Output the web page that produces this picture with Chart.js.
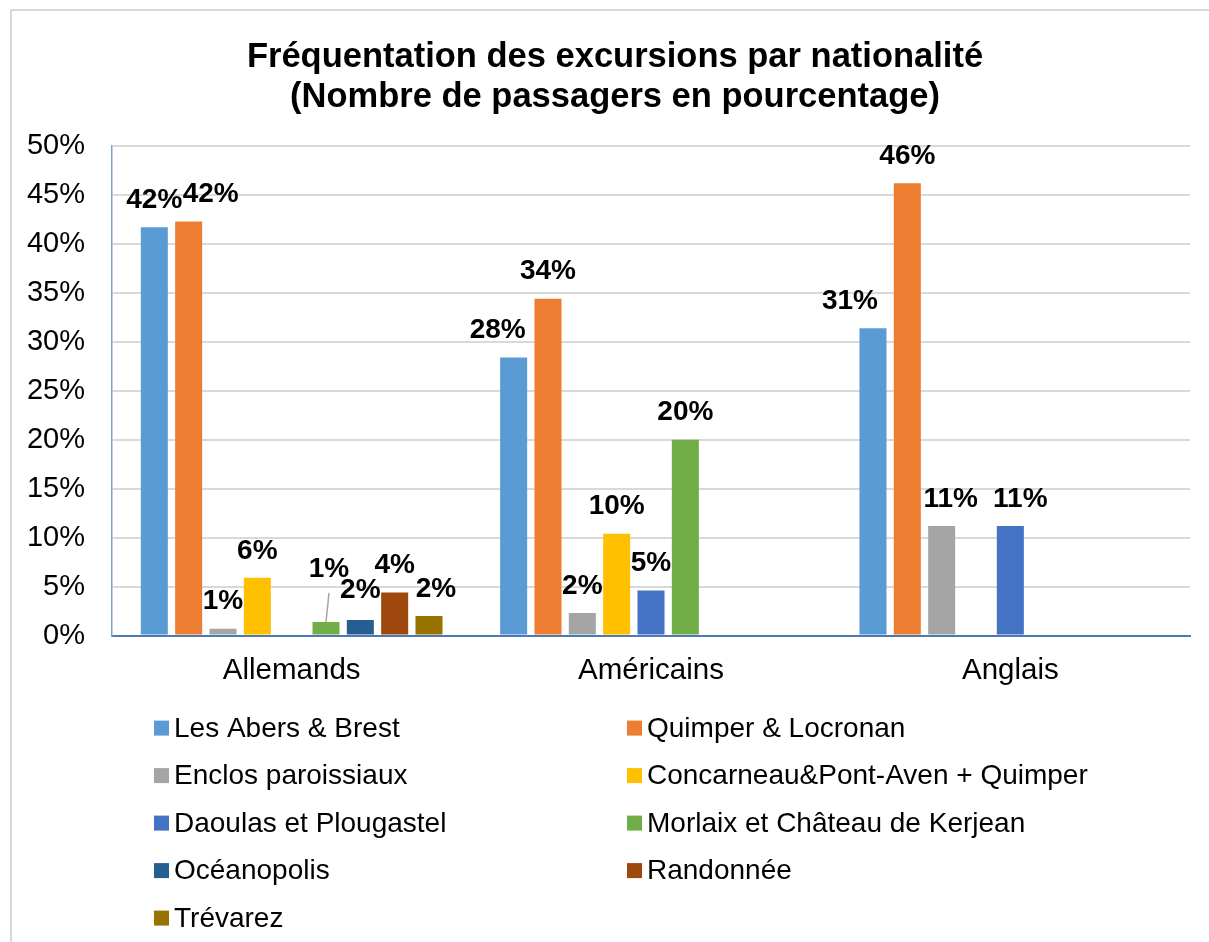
<!DOCTYPE html>
<html>
<head>
<meta charset="utf-8">
<script src="https://cdn.jsdelivr.net/npm/chart.js@4.4.1/dist/chart.umd.min.js"></script>
<style>
  html, body { margin: 0; padding: 0; background: #fff; }
  #wrap { position: relative; width: 1209px; height: 942px; overflow: hidden; }
  #frame { position: absolute; left: 10px; top: 9px; width: 1300px; height: 1100px; border: 2px solid #d9d9d9; box-sizing: border-box; }
  canvas { position: absolute; left: 0; top: 0; }
</style>
</head>
<body>
<div id="wrap">
  <div id="frame"></div>
  <canvas id="chart" width="1209" height="942"></canvas>
</div>
<script>
// categories (nationalities)
const categories = ['Allemands', 'Américains', 'Anglais']

// series names and colours
const seriesNames = [
  'Les Abers & Brest',
  'Quimper & Locronan',
  'Enclos paroissiaux',
  'Concarneau&Pont-Aven + Quimper',
  'Daoulas et Plougastel',
  'Morlaix et Château de Kerjean',
  'Océanopolis',
  'Randonnée',
  'Trévarez'
]
const seriesColors = ['#5b9bd5', '#ed7d31', '#a5a5a5', '#ffc000', '#4472c4', '#70ad47', '#255e91', '#9e480e', '#997300']

// values in percent (null = no bar)
const abersBrest      = [41.7, 28.4, 31.4]
const quimperLocronan = [42.3, 34.4, 46.2]
const enclos          = [0.7, 2.3, 11.2]
const concarneau      = [5.9, 10.4, null]
const daoulas         = [null, 4.6, 11.2]
const morlaix         = [1.4, 20.0, null]
const oceanopolis     = [1.6, null, null]
const randonnee       = [4.4, null, null]
const trevarez        = [2.0, null, null]

const seriesValues = [abersBrest, quimperLocronan, enclos, concarneau, daoulas, morlaix, oceanopolis, randonnee, trevarez]

// y axis range
const yMin = 0
const yMax = 50
const yStep = 5

const titleLines = ['Fréquentation des excursions par nationalité', '(Nombre de passagers en pourcentage)']

const FONT = '"Liberation Sans", Arial, Helvetica, sans-serif'

// small label shifts (like the ones Excel made), key = dataset:index -> [dx, dy, leader]
const labelNudge = {
  '1:0': [22, 0],
  '5:0': [3, -26, true],
  '6:0': [0, -3],
  '8:0': [7, 0],
  '0:1': [-16, 0],
  '0:2': [-23, 0],
  '2:2': [9, 0],
  '4:2': [10, 0]
}

// title is centred on the frame, not on the canvas, so it is drawn here
const frameTitle = {
  id: 'frameTitle',
  afterDraw(chart) {
    const ctx = chart.ctx
    ctx.save()
    ctx.font = 'bold 34.5px ' + FONT
    ctx.fillStyle = '#000'
    ctx.textAlign = 'center'
    ctx.textBaseline = 'middle'
    titleLines.forEach((line, i) => ctx.fillText(line, 615, 57 + i * 40.4))
    ctx.restore()
  }
}

// draws the value labels above the bars
const barLabels = {
  id: 'barLabels',
  afterDatasetsDraw(chart) {
    const ctx = chart.ctx
    ctx.save()
    ctx.font = 'bold 28px ' + FONT
    ctx.textAlign = 'center'
    ctx.textBaseline = 'middle'
    chart.data.datasets.forEach((ds, di) => {
      const meta = chart.getDatasetMeta(di)
      meta.data.forEach((bar, i) => {
        const v = ds.data[i]
        if (v == null) return
        const n = labelNudge[di + ':' + i] || [0, 0]
        const x = bar.x + n[0]
        const y = bar.y - 27 + n[1]
        if (n[2]) {
          // leader line from label down to the bar
          ctx.strokeStyle = '#a6a6a6'
          ctx.lineWidth = 1.5
          ctx.beginPath()
          ctx.moveTo(x, y + 24)
          ctx.lineTo(bar.x, bar.y)
          ctx.stroke()
        }
        ctx.fillStyle = '#000'
        ctx.fillText(Math.round(v) + '%', x, y)
      })
    })
    ctx.restore()
  }
}

// two-column legend under the axis
const gridLegend = {
  id: 'gridLegend',
  afterDraw(chart) {
    const ctx = chart.ctx
    const top = chart.chartArea.bottom + 92.5
    const rowH = 47.5
    const colX = [154, 627]
    ctx.save()
    ctx.font = '28px ' + FONT
    ctx.textBaseline = 'middle'
    ctx.textAlign = 'left'
    chart.data.datasets.forEach((ds, i) => {
      const row = Math.floor(i / 2)
      const col = i % 2
      const y = top + row * rowH
      const x = colX[col]
      ctx.fillStyle = ds.backgroundColor
      ctx.fillRect(x, y - 7.5, 15, 15)
      ctx.fillStyle = '#000'
      ctx.fillText(ds.label, x + 20, y + 1)
    })
    ctx.restore()
  }
}

const datasets = seriesNames.map((name, i) => ({
  label: name,
  data: seriesValues[i],
  backgroundColor: seriesColors[i],
  borderWidth: 0,
  categoryPercentage: 0.86,
  barPercentage: 0.787
}))

new Chart(document.getElementById('chart'), {
  type: 'bar',
  data: { labels: categories, datasets: datasets },
  plugins: [barLabels, gridLegend, frameTitle],
  options: {
    responsive: false,
    animation: false,
    layout: { padding: { left: 12, right: 19, top: 146, bottom: 235 } },
    scales: {
      x: {
        grid: { display: false, drawTicks: false },
        border: { display: true, color: '#4e79b5', width: 2 },
        ticks: { color: '#000', padding: 18, font: { family: FONT, size: 29.5 } }
      },
      y: {
        min: yMin,
        max: yMax,
        afterFit: (s) => { s.width = 100 },
        grid: { color: '#d9d9d9', lineWidth: 2, drawTicks: false },
        border: { display: true, color: '#7f9fcf', width: 1.5 },
        ticks: {
          stepSize: yStep,
          padding: 27,
          color: '#000',
          font: { family: FONT, size: 29 },
          callback: (v) => v + '%'
        }
      }
    },
    plugins: {
      legend: { display: false },
      tooltip: { enabled: false },
      title: { display: false }
    }
  }
})
</script>
</body>
</html>
